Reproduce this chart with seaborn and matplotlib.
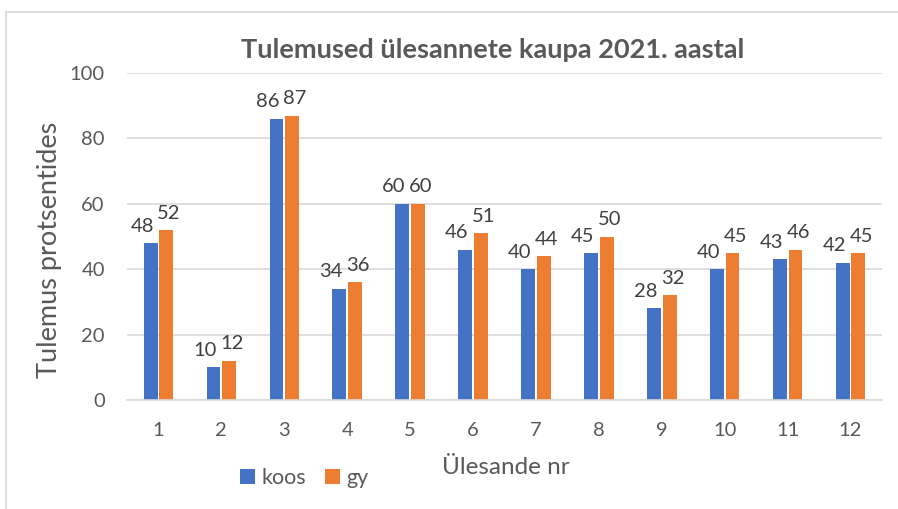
import matplotlib
matplotlib.use("Agg")
import matplotlib.pyplot as plt
import seaborn as sns
import pandas as pd
from matplotlib.lines import Line2D

categories = ["1", "2", "3", "4", "5", "6", "7", "8", "9", "10", "11", "12"]
koos = [48, 10, 86, 34, 60, 46, 40, 45, 28, 40, 43, 42]
gy = [52, 12, 87, 36, 60, 51, 44, 50, 32, 45, 46, 45]
series_names = ["koos", "gy"]
title = "Tulemused ülesannete kaupa 2021. aastal"
xlabel = "Ülesande nr"
ylabel = "Tulemus protsentides"

df = pd.DataFrame({
    "cat": categories * 2,
    "val": koos + gy,
    "series": [series_names[0]] * len(koos) + [series_names[1]] * len(gy),
})

sns.set_theme(style="white")
plt.rcParams["font.family"] = ["Lato", "DejaVu Sans"]
txt = "#595959"

W, H = 898, 509
fig = plt.figure(figsize=(W / 100, H / 100), dpi=100)
ax = fig.add_axes([127 / W, 1 - 400 / H, (882 - 127) / W, (400 - 73) / H])

sns.barplot(data=df, x="cat", y="val", hue="series", order=categories,
            hue_order=series_names, palette=["#4472C4", "#ED7D31"],
            width=0.5, gap=0.12, ax=ax, edgecolor="none", saturation=1)

ax.set_ylim(0, 100)
ax.set_xlim(-0.5, 11.5)
ax.set_yticks(range(0, 101, 20))
ax.yaxis.grid(True, color="#D9D9D9", linewidth=1.2)
ax.set_axisbelow(True)
for s in ["top", "right", "left"]:
    ax.spines[s].set_visible(False)
ax.spines["bottom"].set_color("#D9D9D9")
ax.spines["bottom"].set_linewidth(1.2)
ax.tick_params(axis="both", length=0, labelsize=14.5, labelcolor=txt)
ax.tick_params(axis="y", pad=16)
ax.tick_params(axis="x", pad=16)

offsets = [(-6, 6), (2, 6)]
for cont, off in zip(ax.containers, offsets):
    anns = ax.bar_label(cont, fmt="%d", padding=6, fontsize=14.5, color="#404040")
    for a in anns:
        a.xyann = off

ax.set_xlabel("")
ax.set_ylabel("")
fig.text(506 / W, 1 - 467 / H, xlabel, ha="center", va="center", fontsize=17.5, color=txt)
fig.text(50 / W, 1 - 250 / H, ylabel, ha="center", va="center", rotation=90,
         fontsize=19.5, color=txt)
fig.text(493 / W, 1 - 50 / H, title, ha="center", va="center", fontsize=19.5,
         fontweight="bold", color=txt)

leg = ax.legend(loc="center left", bbox_to_anchor=(229 / W, 1 - 478 / H),
                bbox_transform=fig.transFigure, ncol=2, frameon=False,
                fontsize=15.5, handlelength=0.7, handleheight=0.7,
                handletextpad=0.3, columnspacing=0.9, borderpad=0)
for t in leg.get_texts():
    t.set_color(txt)

# chart border
fig.add_artist(Line2D([6 / W, 6 / W], [0, 1 - 12 / H], color="#D9D9D9", lw=1.2,
                      transform=fig.transFigure))
fig.add_artist(Line2D([6 / W, 1], [1 - 12 / H, 1 - 12 / H], color="#D9D9D9", lw=1.2,
                      transform=fig.transFigure))

fig.savefig("out.png", dpi=100)
